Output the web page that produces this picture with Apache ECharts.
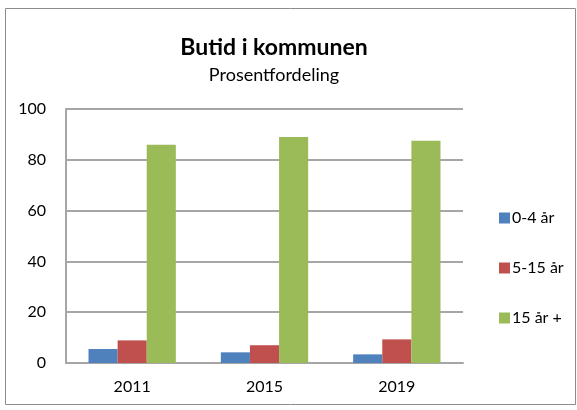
<!DOCTYPE html>
<html>
<head>
<meta charset="utf-8">
<script src="https://cdn.jsdelivr.net/npm/echarts@6/dist/echarts.min.js"></script>
<style>
  html, body { margin: 0; padding: 0; background: #fff; }
  #main { width: 577px; height: 410px; }
</style>
</head>
<body>
<div id="main"></div>
<script>
const years = ['2011', '2015', '2019'];
const seriesNames = ['0-4 år', '5-15 år', '15 år +'];
const short = [5.5, 4.2, 3.4];
const middle = [8.9, 7.0, 9.3];
const long = [85.9, 89.0, 87.5];
const yTicks = [0, 20, 40, 60, 80, 100];

const colors = ['#4F81BD', '#C0504D', '#9BBB59'];
const font = 'Lato, "Open Sans", sans-serif';

const chart = echarts.init(document.getElementById('main'));

const values = [short, middle, long];

chart.setOption({
  animation: false,
  color: colors,
  graphic: [{
    type: 'rect',
    shape: { x: 5.5, y: 8.5, width: 570, height: 396 },
    style: { fill: 'none', stroke: '#8c8c8c', lineWidth: 1 }
  }],
  title: {
    text: 'Butid i kommunen',
    subtext: 'Prosentfordeling',
    left: 269,
    textAlign: 'center',
    top: 31,
    itemGap: 7,
    textStyle: { fontFamily: font, fontSize: 23, fontWeight: 'bold', color: '#000' },
    subtextStyle: { fontFamily: font, fontSize: 18, color: '#000' }
  },
  legend: {
    orient: 'vertical',
    left: 494,
    top: 205,
    itemWidth: 11,
    itemHeight: 11,
    itemGap: 34,
    icon: 'rect',
    textStyle: { fontFamily: font, fontSize: 16, color: '#000', padding: [0, 0, 0, -3] },
    data: seriesNames
  },
  grid: { left: 66, right: 114, top: 109, bottom: 47 },
  xAxis: {
    type: 'category',
    data: years,
    axisLine: { lineStyle: { color: '#a6a6a6', width: 2 } },
    axisTick: { show: false },
    axisLabel: { fontFamily: font, fontSize: 16, color: '#000', margin: 16 }
  },
  yAxis: {
    type: 'value',
    min: yTicks[0],
    max: yTicks[yTicks.length - 1],
    interval: 20,
    axisLine: { show: true, lineStyle: { color: '#a6a6a6', width: 2 } },
    axisTick: { show: false },
    splitLine: { lineStyle: { color: '#a6a6a6', width: 2 } },
    axisLabel: { fontFamily: font, fontSize: 16, color: '#000', margin: 20 }
  },
  series: seriesNames.map((name, i) => ({
    name: name,
    type: 'bar',
    data: values[i],
    barGap: '0%',
    barCategoryGap: '34%'
  }))
});
</script>
</body>
</html>
